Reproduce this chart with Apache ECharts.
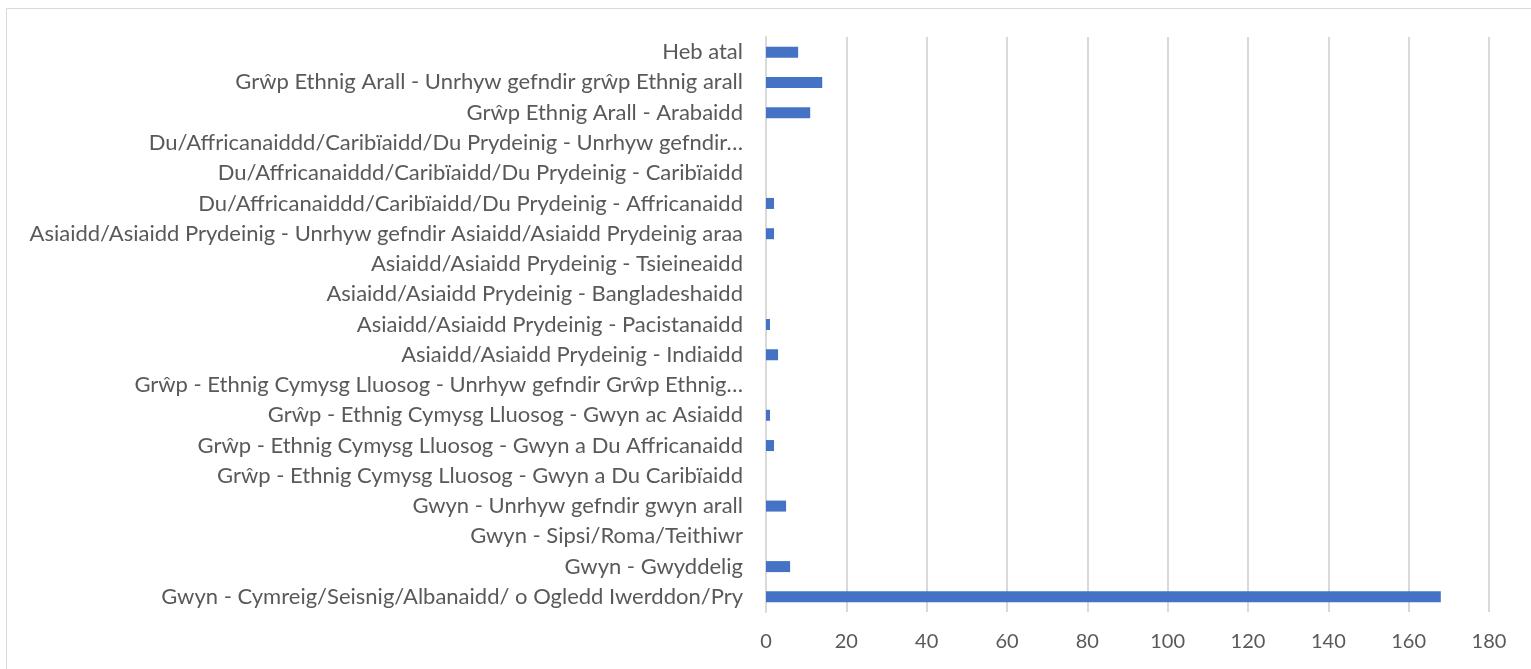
<!DOCTYPE html>
<html>
<head>
<meta charset="utf-8">
<script src="https://cdn.jsdelivr.net/npm/echarts@6/dist/echarts.min.js"></script>
<style>
html, body { margin: 0; padding: 0; background: #fff; }
#main { width: 1531px; height: 669px; }
</style>
</head>
<body>
<div id="main"></div>
<script>
// categories, bottom to top (as drawn)
var categories = [
    'Gwyn - Cymreig/Seisnig/Albanaidd/ o Ogledd Iwerddon/Pry',
    'Gwyn - Gwyddelig',
    'Gwyn - Sipsi/Roma/Teithiwr',
    'Gwyn - Unrhyw gefndir gwyn arall',
    'Grŵp - Ethnig Cymysg Lluosog - Gwyn a Du Caribïaidd',
    'Grŵp - Ethnig Cymysg Lluosog - Gwyn a Du Affricanaidd',
    'Grŵp - Ethnig Cymysg Lluosog - Gwyn ac Asiaidd',
    'Grŵp - Ethnig Cymysg Lluosog - Unrhyw gefndir Grŵp Ethnig…',
    'Asiaidd/Asiaidd Prydeinig - Indiaidd',
    'Asiaidd/Asiaidd Prydeinig - Pacistanaidd',
    'Asiaidd/Asiaidd Prydeinig - Bangladeshaidd',
    'Asiaidd/Asiaidd Prydeinig - Tsieineaidd',
    'Asiaidd/Asiaidd Prydeinig - Unrhyw gefndir Asiaidd/Asiaidd Prydeinig araa',
    'Du/Affricanaiddd/Caribïaidd/Du Prydeinig - Affricanaidd',
    'Du/Affricanaiddd/Caribïaidd/Du Prydeinig - Caribïaidd',
    'Du/Affricanaiddd/Caribïaidd/Du Prydeinig - Unrhyw gefndir…',
    'Grŵp Ethnig Arall - Arabaidd',
    'Grŵp Ethnig Arall - Unrhyw gefndir grŵp Ethnig arall',
    'Heb atal'
];
var values = [168, 6, 0, 5, 0, 2, 1, 0, 3, 1, 0, 0, 2, 2, 0, 0, 11, 14, 8];

var myChart = echarts.init(document.getElementById('main'));
var option = {
    backgroundColor: '#fff',
    animation: false,
    graphic: [{
        type: 'rect',
        shape: { x: 6.5, y: 8.5, width: 1530, height: 670 },
        style: { fill: 'none', stroke: '#d9d9d9', lineWidth: 1 },
        silent: true
    }],
    grid: {
        left: 766,
        right: 42,
        top: 37,
        bottom: 57,
        containLabel: false
    },
    xAxis: {
        type: 'value',
        min: 0,
        max: 180,
        interval: 20,
        axisLine: { show: false },
        axisTick: { show: false },
        axisLabel: {
            color: '#595959',
            fontSize: 20,
            fontFamily: 'Lato',
            margin: 20
        },
        splitLine: { show: true, lineStyle: { color: '#d9d9d9', width: 2 } }
    },
    yAxis: {
        type: 'category',
        data: categories,
        axisLine: { show: true, lineStyle: { color: '#d9d9d9', width: 2 } },
        axisTick: { show: false },
        axisLabel: {
            color: '#595959',
            fontSize: 22,
            fontFamily: 'Lato',
            margin: 23
        }
    },
    series: [{
        type: 'bar',
        data: values,
        barWidth: 11,
        itemStyle: { color: '#4472c4' }
    }]
};
myChart.setOption(option);
</script>
</body>
</html>
